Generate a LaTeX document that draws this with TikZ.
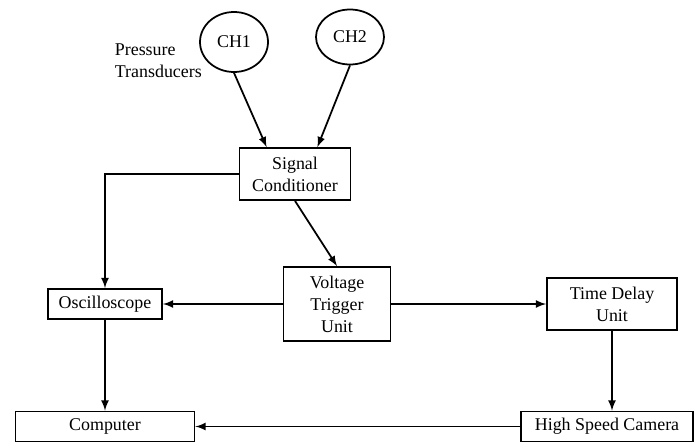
\documentclass[tikz,border=0pt]{standalone}
\usepackage{fontspec}
\setmainfont{Liberation Serif}
\usetikzlibrary{shapes,arrows}
\tikzset{
	block/.style    = {draw, line width=1pt, rectangle, align=center,
		inner sep=1pt},
	channel/.style  = {draw, line width=1pt, ellipse, minimum width=1.36cm,
		minimum height=1.2cm, inner sep=0pt},
	label/.style    = {align=left, inner sep=0pt}
}

\begin{document}
\begin{tikzpicture}[auto, line width=1pt, >=latex, font=\fontsize{10.2}{12.5}\selectfont]
	\useasboundingbox (0,0) rectangle (13.94,8.88);
	\draw
	node at (4.68,8.04)[channel] (ch1) {CH1}
	node at (7.0,8.14)[channel, minimum height=1.1cm] (ch2) {CH2}
	node at (2.28,7.66)[label, anchor=west] (pt) {Pressure\\Transducers}
	node at (5.9,5.4)[block, minimum width=2.22cm, minimum height=1.04cm] (sc) {Signal\\Conditioner}
	node at (2.1,2.8)[block, minimum width=2.28cm, minimum height=0.6cm] (osc) {Oscilloscope}
	node at (6.74,2.8)[block, minimum width=2.14cm, minimum height=1.48cm] (vtu) {Voltage\\Trigger\\Unit}
	node at (12.24,2.8)[block, minimum width=2.6cm, minimum height=1.04cm] (tdu) {Time Delay\\Unit}
	node at (2.1,0.35)[block, minimum width=3.58cm, minimum height=0.6cm] (comp) {Computer}
	node at (12.14,0.35)[block, minimum width=3.44cm, minimum height=0.6cm] (cam) {High Speed Camera};

	\draw[->](ch1.south) -- ([xshift=0.56cm]sc.north west);
	\draw[->](ch2.south) -- ([xshift=-0.68cm]sc.north east);
	\draw[->](sc.west) -| (osc.north);
	\draw[->](sc.south) -- (vtu.north);
	\draw[->](vtu.west) -- (osc.east);
	\draw[->](vtu.east) -- (tdu.west);
	\draw[->](tdu.south) -- (tdu.south |- cam.north);
	\draw[->](osc.south) -- (comp.north);
	\draw[->](cam.west) -- (comp.east);
	\end{tikzpicture}
\end{document}
